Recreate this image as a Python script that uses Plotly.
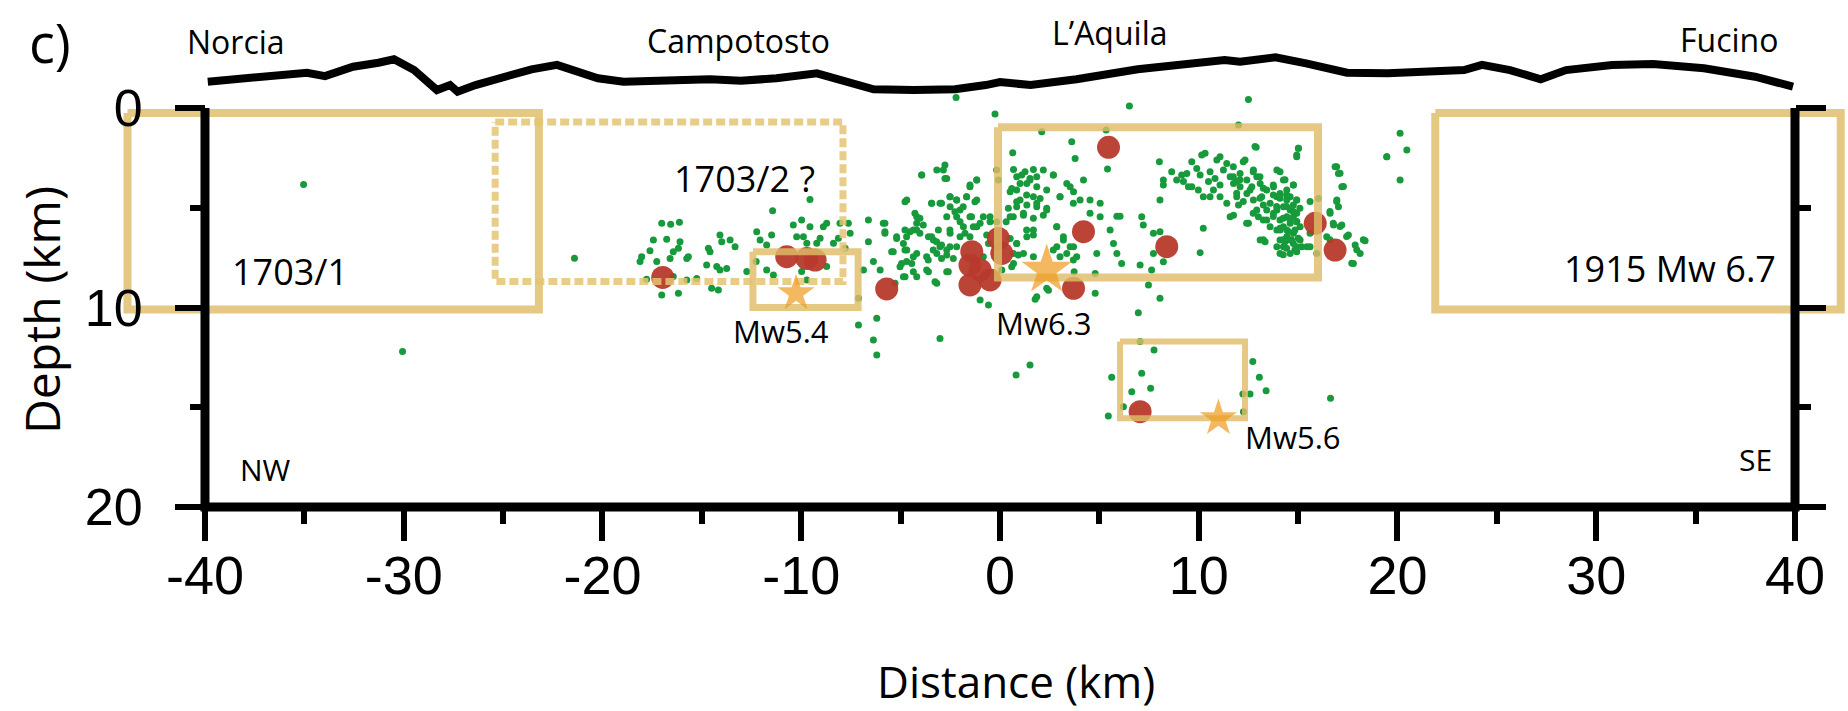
import plotly.graph_objects as go

# ---- Topographic profile along the section (km, elevation shown above depth 0) ----
topo_dist = [-39.86, -37.69, -34.87, -33.96, -32.55, -31.27, -30.49, -29.48, -28.33, -27.67,
             -27.29, -26.39, -24.86, -23.57, -22.29, -21.25, -20.23, -18.94, -17.16, -14.59,
             -13.03, -11.25, -9.21, -7.65, -6.36, -4.33, -2.26, -0.72, 0.0, 1.54,
             3.85, 6.93, 8.99, 11.30, 12.08, 13.86, 15.40, 17.46, 19.51, 22.08,
             23.35, 24.25, 25.66, 27.21, 28.48, 30.79, 32.86, 35.42, 37.99, 39.90]
topo_elev = [1.32, 1.49, 1.77, 1.60, 2.07, 2.27, 2.44, 1.90, 0.90, 1.15,
             0.82, 1.15, 1.57, 1.94, 2.16, 1.82, 1.49, 1.32, 1.37, 1.44,
             1.37, 1.49, 1.74, 1.32, 0.94, 0.90, 0.94, 1.15, 1.30, 1.15,
             1.44, 1.94, 2.16, 2.41, 2.32, 2.54, 2.24, 1.77, 1.74, 1.82,
             1.90, 2.16, 1.90, 1.44, 1.90, 2.16, 2.21, 1.99, 1.57, 1.07]

# ---- Aftershock hypocentres (distance km, depth km), grouped by area ----
seq_campotosto = [
    (-9.56, 4.58), (-11.44, 5.15), (-17.02, 5.78), (-16.57, 5.83), (-16.13, 5.73), (-17.44, 6.62),
    (-16.77, 6.58), (-16.10, 6.70), (-17.61, 7.15), (-18.03, 7.45), (-18.11, 7.70), (-17.27, 7.70),
    (-16.60, 7.54), (-16.44, 7.20), (-16.18, 7.03), (-15.76, 7.54), (-15.68, 7.45), (-15.26, 8.54),
    (-15.76, 8.62), (-14.67, 7.03), (-14.59, 7.20), (-14.09, 6.37), (-14.00, 6.70), (-13.58, 6.62),
    (-13.33, 6.95), (-14.76, 7.87), (-14.25, 7.95), (-14.09, 8.12), (-13.75, 8.04), (-14.51, 9.04),
    (-14.17, 9.12), (-16.18, 9.29), (-17.02, 9.37), (-17.78, 8.59), (-16.44, 8.45), (-12.24, 6.20),
    (-12.07, 6.62), (-11.74, 6.87), (-11.49, 6.37), (-12.27, 7.70), (-12.74, 8.20), (-11.40, 8.37),
    (-10.40, 5.86), (-9.98, 5.61), (-9.56, 5.95), (-9.89, 6.45), (-10.23, 6.45), (-9.72, 6.78),
    (-9.22, 6.78), (-9.05, 6.53), (-8.89, 5.95), (-8.72, 5.78), (-8.05, 5.78), (-7.63, 5.78),
    (-7.54, 6.28), (-8.13, 6.53), (-8.38, 6.78), (-8.72, 7.95), (-9.98, 8.20), (-9.72, 8.62),
    (-6.62, 5.61), (-6.62, 6.70), (-6.87, 8.12), (-6.37, 7.70), (-6.03, 8.12), (-7.12, 9.54),
    (-7.12, 10.88), (-6.20, 10.54), (-6.37, 11.63), (-6.20, 12.38), (-7.79, 7.03), (-11.74, 8.12),
]
seq_aquila = [
    (-2.21, -0.53), (-0.25, 0.30), (3.61, 1.69), (3.78, 2.53), (5.41, 3.06), (0.64, 2.24),
    (0.68, 3.08), (1.09, 3.36), (1.26, 3.19), (1.68, 3.08), (2.18, 3.11), (2.69, 3.36),
    (1.51, 3.53), (1.35, 3.78), (1.85, 3.95), (2.35, 4.11), (0.84, 4.11), (0.51, 4.20),
    (1.68, 4.45), (2.02, 4.53), (1.01, 4.61), (1.35, 4.86), (1.85, 4.95), (2.35, 5.03),
    (0.84, 4.95), (0.51, 5.45), (1.18, 5.37), (1.68, 5.53), (2.18, 5.37), (3.02, 4.45),
    (3.53, 3.95), (3.70, 4.20), (4.20, 3.61), (4.03, 4.61), (4.53, 4.61), (5.04, 4.78),
    (4.53, 5.28), (5.04, 5.45), (5.88, 5.42), (5.54, 6.12), (5.71, 6.79), (5.88, 7.29),
    (4.87, 7.29), (4.79, 8.29), (3.86, 7.45), (3.70, 6.95), (3.19, 6.62), (2.86, 5.95),
    (2.86, 6.95), (3.36, 7.29), (1.68, 6.12), (1.35, 6.45), (0.84, 6.79), (1.18, 7.29),
    (1.68, 7.45), (0.68, 7.79), (2.44, 9.13), (1.77, 9.59), (3.73, 8.21), (4.79, 9.29),
    (1.51, 12.88), (0.31, 5.70), (-0.17, 5.70), (-0.50, 5.45), (-1.00, 5.78), (-1.34, 5.95),
    (-1.51, 5.45), (-1.17, 4.61), (-1.68, 4.45), (-2.18, 4.61), (-2.51, 4.45), (-3.02, 4.78),
    (-1.51, 3.95), (-1.17, 3.61), (-2.68, 3.53), (-2.85, 3.11), (-3.18, 3.11), (-2.77, 2.86),
    (-3.94, 3.36), (-3.44, 4.78), (-2.51, 4.95), (-2.01, 5.11), (-2.68, 5.45), (-2.18, 5.45),
    (-4.19, 5.45), (-4.19, 5.78), (-4.69, 4.61), (-4.78, 6.12), (-5.20, 6.45), (-4.86, 6.79),
    (-4.36, 6.12), (-4.03, 6.28), (-3.60, 6.45), (-3.35, 6.62), (-3.02, 6.95), (-2.68, 7.12),
    (-3.18, 7.29), (-3.69, 7.45), (-4.19, 7.29), (-4.69, 7.12), (-4.44, 7.79), (-4.95, 7.79),
    (-4.86, 8.46), (-4.36, 8.21), (-3.60, 8.21), (-3.18, 8.79), (-2.60, 8.21), (-2.35, 7.54),
    (-2.18, 6.95), (-2.01, 6.45), (-2.51, 6.28), (-1.84, 5.95), (-1.51, 6.45), (-0.67, 6.37),
    (-0.58, 6.79), (-0.84, 7.45), (-1.34, 7.79), (-1.00, 9.63), (-0.58, 9.88), (-3.02, 11.55),
    (-5.45, 7.20), (-5.87, 5.78), (-5.79, 6.28), (-5.28, 8.79), (0.51, 6.54), (0.17, 6.87),
    (0.92, 7.37), (0.09, 8.12), (2.10, 1.19), (5.34, 1.10), (-0.17, 3.11), (-0.08, 3.61),
]
seq_aquila_core = [
    (-3.94, 3.36), (-2.77, 3.53), (-1.51, 3.86), (-1.17, 3.61), (-4.78, 4.70), (-3.44, 4.78),
    (-2.94, 4.78), (-2.52, 4.45), (-2.18, 4.61), (-1.68, 4.45), (-1.26, 4.70), (-2.27, 5.20),
    (-1.85, 4.95), (-4.28, 5.28), (-4.03, 5.53), (-3.86, 5.87), (-4.19, 6.12), (-4.53, 6.20),
    (-4.70, 6.45), (-5.20, 6.54), (-5.79, 5.78), (-5.79, 6.20), (-5.37, 7.20), (-4.78, 7.12),
    (-4.70, 7.70), (-5.03, 7.96), (-4.36, 7.45), (-3.61, 7.62), (-3.44, 6.45), (-3.19, 6.70),
    (-3.36, 7.12), (-2.94, 6.87), (-2.68, 7.37), (-2.94, 7.54), (-2.52, 6.95), (-3.10, 6.12),
    (-2.52, 6.12), (-2.01, 5.70), (-1.76, 6.28), (-1.43, 5.45), (-1.17, 5.95), (-0.84, 5.45),
    (-0.50, 5.70), (-3.69, 8.12), (-4.19, 8.46), (-3.27, 8.71), (-2.68, 8.21), (-4.78, 8.46),
    (0.59, 4.03), (1.01, 3.78), (0.84, 3.44), (1.51, 3.61), (1.85, 3.44), (2.68, 3.36),
    (1.34, 4.36), (1.85, 4.78), (2.35, 5.11), (1.18, 5.28), (0.67, 5.45), (0.42, 5.03),
    (0.84, 4.70), (3.02, 4.45), (3.36, 3.78), (3.69, 4.78), (2.85, 5.95), (3.19, 6.45),
    (3.53, 6.95), (1.34, 6.12), (1.68, 6.37), (0.84, 6.79), (0.67, 7.29), (2.68, 7.12),
    (3.02, 7.45), (3.69, 7.62), (0.59, 7.96), (2.35, 9.04), (1.85, 9.46),
]
seq_southeast = [
    (6.51, -0.10), (12.50, -0.43), (12.00, 0.85), (12.89, 1.97), (15.02, 2.02), (14.93, 2.36),
    (20.13, 1.27), (20.47, 2.11), (19.46, 2.44), (20.13, 3.61), (8.02, 2.69), (8.64, 3.19),
    (8.22, 3.61), (8.22, 3.86), (9.14, 3.36), (9.23, 3.69), (9.65, 2.69), (10.15, 2.36),
    (10.32, 2.27), (9.90, 3.03), (10.07, 3.36), (10.57, 3.19), (10.91, 2.61), (11.07, 2.44),
    (11.41, 2.78), (11.24, 3.11), (10.82, 3.53), (10.49, 3.69), (9.65, 3.95), (9.98, 4.11),
    (10.23, 4.45), (10.74, 4.11), (11.07, 3.86), (11.58, 3.44), (11.75, 3.78), (12.08, 3.28),
    (12.33, 2.61), (12.42, 3.61), (12.75, 3.11), (12.92, 3.44), (13.09, 3.78), (13.42, 4.11),
    (11.07, 4.45), (11.41, 4.78), (11.91, 4.45), (12.00, 4.86), (11.75, 5.37), (11.58, 5.45),
    (12.42, 4.28), (12.75, 4.61), (12.92, 5.11), (13.00, 5.45), (12.50, 5.78), (13.93, 3.11),
    (14.26, 3.61), (13.76, 3.95), (13.93, 4.45), (14.43, 4.11), (14.76, 3.86), (14.60, 4.45),
    (14.93, 4.61), (13.59, 4.78), (13.93, 5.11), (14.26, 4.95), (14.60, 5.11), (14.93, 5.28),
    (14.43, 5.45), (14.09, 5.62), (13.42, 5.62), (13.59, 5.95), (13.93, 6.12), (14.26, 5.95),
    (14.60, 5.78), (14.93, 5.70), (15.10, 5.95), (14.76, 6.28), (14.43, 6.45), (14.09, 6.62),
    (13.09, 6.62), (13.34, 6.70), (14.76, 6.79), (15.10, 6.62), (14.26, 6.95), (14.60, 7.29),
    (14.93, 7.20), (14.09, 7.29), (15.44, 6.95), (15.60, 6.28), (16.02, 4.53), (15.94, 7.29),
    (16.86, 2.94), (17.03, 3.28), (17.20, 3.95), (16.95, 4.61), (17.03, 4.95), (16.61, 5.28),
    (16.78, 5.87), (17.20, 5.87), (17.53, 6.37), (17.87, 6.87), (18.37, 6.65), (18.12, 7.29),
    (17.78, 7.79), (16.44, 6.45), (8.05, 4.61), (7.13, 5.45), (7.21, 5.87), (7.72, 6.28),
    (8.05, 6.20), (10.23, 6.03), (10.07, 7.25), (6.04, 5.42), (6.12, 7.79), (7.05, 7.87),
    (7.63, 8.12), (7.72, 7.29), (8.22, 7.71), (7.47, 8.87), (8.05, 9.54), (14.09, 4.28),
    (14.43, 4.61), (14.76, 4.86), (13.76, 5.28), (14.76, 5.45), (14.09, 6.12), (14.43, 6.12),
    (14.60, 6.62), (14.34, 6.70), (13.93, 6.95), (14.93, 6.95), (15.18, 6.95), (13.17, 4.45),
    (13.25, 4.86), (13.42, 5.11), (12.67, 3.95), (12.08, 3.95), (10.57, 4.45), (9.40, 3.28),
    (8.89, 3.61), (9.48, 3.95), (11.91, 3.69),
]
seq_southeast_core = [
    (12.83, 1.93), (15.01, 2.02), (14.93, 2.44), (12.24, 2.69), (11.74, 2.94), (11.74, 3.44),
    (12.07, 3.60), (12.74, 3.19), (13.08, 3.44), (14.09, 3.19), (14.34, 3.60), (13.75, 3.86),
    (14.76, 3.86), (13.25, 4.02), (12.58, 4.11), (11.91, 4.27), (12.24, 4.69), (13.08, 4.52),
    (13.75, 4.36), (14.09, 4.52), (14.42, 4.36), (14.93, 4.61), (13.92, 4.94), (14.42, 4.94),
    (14.76, 5.19), (15.09, 5.03), (13.75, 5.44), (14.25, 5.53), (14.59, 5.61), (14.93, 5.69),
    (13.25, 5.61), (12.74, 5.28), (12.41, 5.78), (14.09, 6.03), (14.51, 6.19), (14.84, 6.11),
    (14.25, 6.61), (14.67, 6.61), (15.01, 6.53), (14.42, 7.03), (14.84, 7.11), (14.25, 7.36),
    (13.25, 6.61), (15.60, 4.69), (15.60, 6.95), (16.94, 2.94), (17.11, 3.27), (17.28, 3.94),
    (16.94, 4.69), (16.60, 5.19), (16.77, 5.78), (17.11, 5.94), (17.44, 6.44), (18.28, 6.61),
    (17.95, 7.11), (17.70, 7.78), (16.60, 6.61), (19.46, 2.44),
]
seq_deep = [
    (6.96, 10.26), (0.81, 13.38), (7.05, 11.71), (7.75, 12.13), (5.62, 13.50), (7.13, 13.30),
    (6.63, 14.22), (7.58, 14.05), (6.21, 14.97), (5.45, 15.44), (12.72, 12.71), (13.05, 13.50),
    (13.39, 14.17), (12.58, 14.33), (12.22, 14.33), (12.25, 15.22), (16.63, 14.55),
]
seq_isolated = [(-35.04, 3.83), (-30.06, 12.21), (-21.41, 7.53)]

# ---- Largest aftershocks (red circles) and main events (stars) ----
big_x = [-16.97, -10.73, -9.72, -9.30, -5.70, -1.42, -1.51, -0.08, 0.09, -1.51,
         -0.50, -1.00, 4.20, 3.70, 5.46, 8.39, 15.86, 16.86, 7.05]
big_depth = [8.49, 7.45, 7.54, 7.62, 9.07, 7.20, 7.87, 6.54, 7.29, 8.87,
             8.62, 8.12, 6.20, 9.04, 1.97, 6.95, 5.78, 7.12, 15.22]

main_names = ["Mw5.4", "Mw6.3", "Mw5.6"]
main_x = [-10.26, 2.35, 10.99]
main_depth = [9.29, 8.12, 15.55]
main_mag = [5.4, 6.3, 5.6]

# ---- Fault boxes: (x0, x1, top depth, bottom depth) ----
box_names = ["1703/1", "1915 Mw 6.7", "Mw5.4", "Mw6.3", "Mw5.6"]
box_x0 = [-43.9, 21.9, -12.43, -0.1, 6.04]
box_x1 = [-23.2, 42.3, -7.14, 16.0, 12.33]
box_top = [0.25, 0.25, 7.2, 0.97, 11.71]
box_bot = [10.1, 10.1, 10.0, 8.5, 15.55]
box_width = [8, 8, 7, 8, 6]
dotted_box = (-25.4, -7.9, 0.7, 8.7)   # 1703/2 (uncertain)

# Place names along the profile
towns = ["Norcia", "Campotosto", "L\u2019Aquila", "Fucino"]
town_x = [-38.44, -13.18, 5.53, 36.7]
town_y = [-3.35, -3.4, -3.8, -3.45]

# Axis ticks
x_ticks = list(range(-40, 41, 10))
x_tick_text = [str(v) for v in x_ticks]          # plain hyphen minus
y_ticks = [0, 10, 20]

# Axis geometry: full-figure axes, pixel scale about 19.9 px per km
X_RANGE = [-50.314, 42.667]
Y_RANGE = [30.226, -5.414]
W, H = 1848, 711

GOLD = "rgba(222,188,104,0.82)"
GREEN = "#179a3c"
RED = "#b73a2c"
ORANGE = "#f09a1c"
TEXT_FONT = "Open Sans"
NUM_FONT = "Liberation Sans, Arial"

fig = go.Figure()

# topography
fig.add_trace(go.Scatter(x=topo_dist, y=[-e for e in topo_elev], mode="lines",
                         line=dict(color="black", width=8), hoverinfo="skip"))

# hypocentres
all_seq = (seq_campotosto + seq_aquila + seq_aquila_core + seq_southeast
           + seq_southeast_core + seq_deep + seq_isolated)
fig.add_trace(go.Scatter(x=[p[0] for p in all_seq], y=[p[1] for p in all_seq], mode="markers",
                         marker=dict(color=GREEN, size=7, line=dict(width=0))))

fig.add_trace(go.Scatter(x=big_x, y=big_depth, mode="markers",
                         marker=dict(color=RED, size=23, opacity=0.95, line=dict(width=0))))

# fault boxes
for x0, x1, t, b, w in zip(box_x0, box_x1, box_top, box_bot, box_width):
    fig.add_trace(go.Scatter(x=[x0, x1, x1, x0, x0], y=[t, t, b, b, t], mode="lines",
                             line=dict(color=GOLD, width=w), hoverinfo="skip"))
dx0, dx1, dt, db = dotted_box
fig.add_trace(go.Scatter(x=[dx0, dx1, dx1, dx0, dx0], y=[dt, dt, db, db, dt], mode="lines",
                         line=dict(color="rgba(228,196,115,0.85)", width=7, dash="9px,4px"),
                         hoverinfo="skip"))

# main shocks
star_sizes = [28 if m < 6 else 38 for m in main_mag]
fig.add_trace(go.Scatter(x=main_x, y=main_depth, mode="markers",
                         marker=dict(symbol="star", color=ORANGE, size=star_sizes, line=dict(width=0))))

# section frame (left, bottom, right)
fig.add_trace(go.Scatter(x=[-40, -40, 40, 40], y=[0, 20, 20, 0], mode="lines",
                         line=dict(color="black", width=9), hoverinfo="skip"))
# dummy trace to carry the right-hand axis
fig.add_trace(go.Scatter(x=[0], y=[10], yaxis="y2", mode="markers",
                         marker=dict(opacity=0), hoverinfo="skip"))

ann = []
def label(text, x, y, size, font=TEXT_FONT, **kw):
    ann.append(dict(text=text, x=x, y=y, xref="x", yref="y", showarrow=False,
                    xanchor="center", yanchor="middle",
                    font=dict(family=font, size=size, color="black"), **kw))

for name, x, y in zip(towns, town_x, town_y):
    label(name, x, y, 32)
label("1703/1", -35.72, 8.22, 36)
label("1703/2 ?", -12.88, 3.51, 36)
label("1915 Mw 6.7", 33.71, 8.02, 36)
label("Mw5.4", -11.02, 11.18, 31)
label("Mw6.3", 2.21, 10.80, 31)
label("Mw5.6", 14.74, 16.47, 31)
label("NW", -36.98, 18.10, 30)
label("SE", 37.99, 17.64, 30)

def paper_text(text, px, py, size, **kw):
    ann.append(dict(text=text, x=px / W, y=1 - py / H, xref="paper", yref="paper",
                    showarrow=False, xanchor="center", yanchor="middle",
                    font=dict(family=TEXT_FONT, size=size, color="black"), **kw))

paper_text("c)", 50, 42, 54)
paper_text("Depth (km)", 41, 310, 48, textangle=-90)
paper_text("Distance (km)", 1016, 681, 44)

tick_common = dict(ticks="outside", tickcolor="black", showgrid=False, zeroline=False,
                   showline=False, automargin=False)

fig.update_layout(
    width=W, height=H, margin=dict(l=0, r=0, t=0, b=0),
    paper_bgcolor="white", plot_bgcolor="white", showlegend=False,
    annotations=ann,
    xaxis=dict(domain=[0, 1], range=X_RANGE, anchor="free", position=1 - 507 / H,
               tickvals=x_ticks, ticktext=x_tick_text, ticklen=33, tickwidth=6,
               tickfont=dict(family=NUM_FONT, size=54, color="black"), ticklabelstandoff=-12,
               minor=dict(tickvals=list(range(-35, 40, 10)), ticks="outside", ticklen=16,
                          tickwidth=6, tickcolor="black"),
               **tick_common),
    yaxis=dict(domain=[0, 1], range=Y_RANGE, anchor="free", position=205 / W,
               tickvals=y_ticks, ticklen=30, tickwidth=6,
               tickfont=dict(family=NUM_FONT, size=52, color="black"), ticklabelstandoff=22,
               minor=dict(tickvals=[5, 15], ticks="outside", ticklen=15, tickwidth=6,
                          tickcolor="black"),
               **tick_common),
    yaxis2=dict(overlaying="y", matches="y", side="right", anchor="free", position=1795 / W,
                tickvals=y_ticks, ticklen=30, tickwidth=6, showticklabels=False,
                minor=dict(tickvals=[5, 15], ticks="outside", ticklen=15, tickwidth=6,
                           tickcolor="black"),
                **tick_common),
)

fig.write_html("out.html")
